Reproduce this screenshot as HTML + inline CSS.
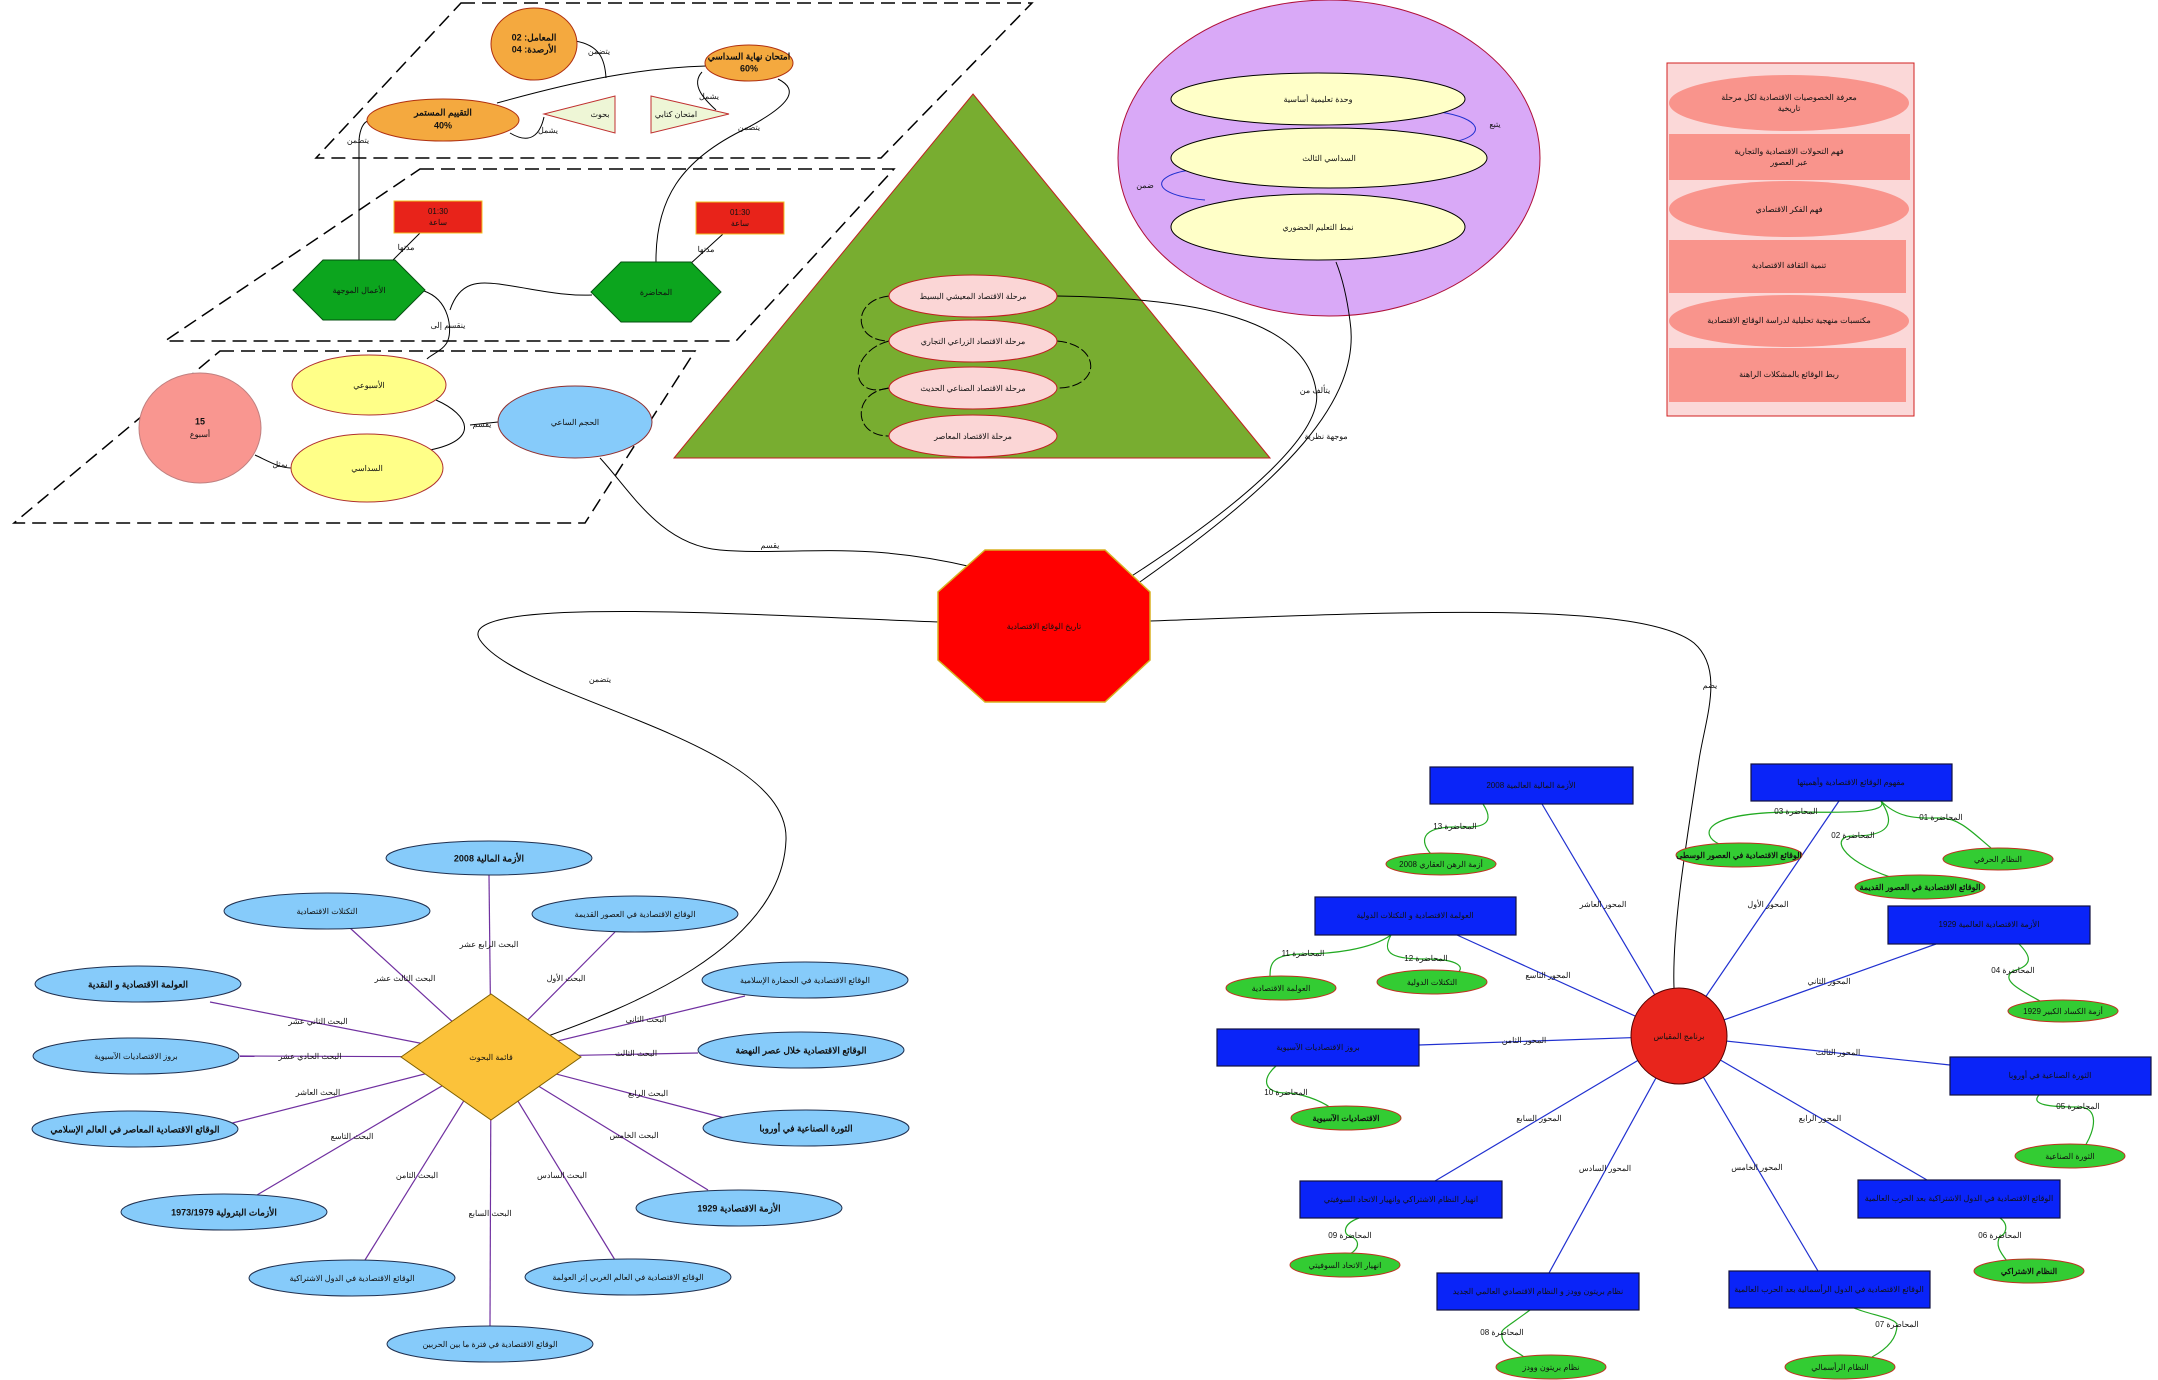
<!DOCTYPE html>
<html><head><meta charset="utf-8"><style>
html,body{margin:0;padding:0;background:#fff;}
svg{display:block;font-family:"Liberation Sans","Noto Sans CJK SC",sans-serif;}
text{text-anchor:middle;dominant-baseline:middle;fill:#111;}
.s{font-size:8px;}
.m{font-size:9px;font-weight:bold;}
</style></head><body>
<svg width="2158" height="1380" viewBox="0 0 2158 1380" xmlns="http://www.w3.org/2000/svg">
<!-- dashed parallelograms -->
<g fill="none" stroke="#000" stroke-width="1.5" stroke-dasharray="14,7">
<polygon points="461,3 1032,3 881,158 316,158"/>
<polygon points="420,169 894,169 736,341 165,341"/>
<polygon points="220,351 695,351 585,523 14,523"/>
</g>

<!-- green triangle -->
<polygon points="973,94 1270,458 674,458" fill="#78ad30" stroke="#c02020" stroke-width="1"/>

<!-- purple circle -->
<ellipse cx="1329" cy="158" rx="211" ry="158" fill="#d9a9f7" stroke="#b0103a" stroke-width="1"/>

<!-- connectors black -->
<g fill="none" stroke="#000" stroke-width="1">
<!-- P1 -->
<path d="M497,103 C580,80 640,68 706,66"/>
<path d="M510,133 C530,145 540,135 544,117"/>
<path d="M702,72 C690,85 705,100 716,110"/>
<path d="M575,41 C600,45 605,60 606,78"/>
<path d="M359,262 L359,140 C360,128 364,122 368,121"/>
<path d="M656,264 C655,200 680,160 747,128 C790,105 800,90 778,79"/>
<!-- P2 -->
<path d="M420,233 L389,264"/>
<path d="M723,234 L689,265"/>
<path d="M424,291 C450,300 452,330 448,340 C445,350 430,355 427,359"/>
<path d="M450,310 C460,280 480,282 499,284 C540,290 560,296 592,295"/>
<!-- P3 -->
<path d="M436,400 C470,415 480,440 430,450"/>
<path d="M470,425 L498,422"/>
<path d="M255,455 C270,462 280,468 291,468"/>
<!-- octagon connectors -->
<path d="M600,458 C630,490 660,545 720,550 C790,556 860,540 972,567"/>
<path d="M940,622 C750,615 450,595 480,640 C520,700 790,740 786,840 C782,950 620,1010 548,1036"/>
<path d="M1150,621 C1400,612 1640,600 1694,643 C1725,670 1705,720 1699,760 C1685,850 1672,930 1674,988"/>
<path d="M1127,579 C1250,500 1325,430 1316,390 C1305,320 1200,298 1057,296"/>
<path d="M1137,584 C1285,480 1362,400 1350,321 C1346,290 1340,272 1336,262"/>
</g>
<!-- triangle side arcs -->
<g fill="none" stroke="#000" stroke-width="1" stroke-dasharray="10,3">
<path d="M889,296 C852,300 852,341 889,341"/>
<path d="M889,341 C848,352 848,400 889,388"/>
<path d="M889,388 C852,392 852,436 889,436"/>
<path d="M1057,341 C1102,345 1102,388 1057,388"/>
</g>

<!-- P1 nodes -->
<ellipse cx="534" cy="44" rx="43" ry="36" fill="#f4a93f" stroke="#b03010"/>
<text class="m" x="534" y="38">المعامل: 02</text><text class="m" x="534" y="50">الأرصدة: 04</text>
<ellipse cx="749" cy="63" rx="44" ry="18" fill="#f4a93f" stroke="#b03010"/>
<text class="m" x="749" y="57">امتحان نهاية السداسي</text><text class="m" x="749" y="69">60%</text>
<ellipse cx="443" cy="120" rx="76" ry="21" fill="#f4a93f" stroke="#b03010"/>
<text class="m" x="443" y="113">التقييم المستمر</text><text class="m" x="443" y="126">40%</text>
<polygon points="544,114 615,96 615,133" fill="#eef6d6" stroke="#c03030"/>
<text class="s" x="600" y="115">بحوث</text>
<polygon points="651,96 651,133 729,114" fill="#eef6d6" stroke="#c03030"/>
<text class="s" x="676" y="115">امتحان كتابي</text>
<text class="s" x="599" y="52">يتضمن</text><text class="s" x="548" y="131">يشمل</text><text class="s" x="709" y="97">يشمل</text>
<text class="s" x="358" y="141">يتضمن</text><text class="s" x="749" y="128">يتضمن</text>

<!-- P2 nodes -->
<rect x="394" y="201" width="88" height="32" fill="#e8231a" stroke="#f0c020"/>
<text class="s" x="438" y="212">01:30</text><text class="s" x="438" y="223">ساعة</text>
<rect x="696" y="202" width="88" height="32" fill="#e8231a" stroke="#f0c020"/>
<text class="s" x="740" y="213">01:30</text><text class="s" x="740" y="224">ساعة</text>
<polygon points="293,290 323,260 395,260 425,290 395,320 323,320" fill="#0ca51e" stroke="#055010"/>
<text class="s" x="359" y="291">الأعمال الموجهة</text>
<polygon points="591,292 621,262 691,262 721,292 691,322 621,322" fill="#0ca51e" stroke="#055010"/>
<text class="s" x="656" y="293">المحاضرة</text>
<text class="s" x="406" y="248">مدتها</text><text class="s" x="706" y="250">مدتها</text>
<text class="s" x="448" y="326">ينقسم إلى</text>

<!-- P3 nodes -->
<ellipse cx="200" cy="428" rx="61" ry="55" fill="#f99690" stroke="#c08080"/>
<text class="m" x="200" y="422">15</text><text class="s" x="200" y="435">أسبوع</text>
<ellipse cx="369" cy="385" rx="77" ry="30" fill="#ffff88" stroke="#b03030"/>
<text class="s" x="369" y="386">الأسبوعي</text>
<ellipse cx="367" cy="468" rx="76" ry="34" fill="#ffff88" stroke="#b03030"/>
<text class="s" x="367" y="469">السداسي</text>
<ellipse cx="575" cy="422" rx="77" ry="36" fill="#86cbfa" stroke="#903030"/>
<text class="s" x="575" y="423">الحجم الساعي</text>
<text class="s" x="482" y="425">يقسم</text><text class="s" x="280" y="465">يمثل</text>

<!-- triangle ellipses -->
<g fill="#fbd6d6" stroke="#c02020">
<ellipse cx="973" cy="296" rx="84" ry="21"/>
<ellipse cx="973" cy="341" rx="84" ry="21"/>
<ellipse cx="973" cy="388" rx="84" ry="21"/>
<ellipse cx="973" cy="436" rx="84" ry="21"/>
</g>
<text class="s" x="973" y="297">مرحلة الاقتصاد المعيشي البسيط</text>
<text class="s" x="973" y="342">مرحلة الاقتصاد الزراعي التجاري</text>
<text class="s" x="973" y="389">مرحلة الاقتصاد الصناعي الحديث</text>
<text class="s" x="973" y="437">مرحلة الاقتصاد المعاصر</text>

<!-- purple circle contents -->
<g fill="none" stroke="#2030d0" stroke-width="1">
<path d="M1440,112 C1480,118 1490,135 1450,143"/>
<path d="M1190,170 C1150,176 1150,195 1205,200"/>
</g>
<g fill="#ffffc8" stroke="#000">
<ellipse cx="1318" cy="99" rx="147" ry="26"/>
<ellipse cx="1329" cy="158" rx="158" ry="30"/>
<ellipse cx="1318" cy="227" rx="147" ry="33"/>
</g>
<text class="s" x="1318" y="100">وحدة تعليمية أساسية</text>
<text class="s" x="1329" y="159">السداسي الثالث</text>
<text class="s" x="1318" y="228">نمط التعليم الحضوري</text>
<text class="s" x="1495" y="125">يتبع</text><text class="s" x="1145" y="186">ضمن</text>

<!-- pink panel -->
<rect x="1667" y="63" width="247" height="353" fill="#fbd8d8" stroke="#d02020"/>
<g fill="#f9948c">
<ellipse cx="1789" cy="103" rx="120" ry="28"/>
<rect x="1669" y="134" width="241" height="46"/>
<ellipse cx="1789" cy="209" rx="120" ry="28"/>
<rect x="1669" y="240" width="237" height="53"/>
<ellipse cx="1789" cy="321" rx="120" ry="26"/>
<rect x="1669" y="348" width="237" height="54"/>
</g>
<text class="s" x="1789" y="98">معرفة الخصوصيات الاقتصادية لكل مرحلة</text><text class="s" x="1789" y="109">تاريخية</text>
<text class="s" x="1789" y="152">فهم التحولات الاقتصادية والتجارية</text><text class="s" x="1789" y="163">عبر العصور</text>
<text class="s" x="1789" y="210">فهم الفكر الاقتصادي</text>
<text class="s" x="1789" y="266">تنمية الثقافة الاقتصادية</text>
<text class="s" x="1789" y="321">مكتسبات منهجية تحليلية لدراسة الوقائع الاقتصادية</text>
<text class="s" x="1789" y="375">ربط الوقائع بالمشكلات الراهنة</text>

<!-- octagon -->
<polygon points="985,550 1105,550 1150,592 1150,660 1105,702 985,702 938,660 938,592" fill="#ff0000" stroke="#d8b020" stroke-width="1.5"/>
<text class="s" x="1044" y="627">تاريخ الوقائع الاقتصادية</text>
<text class="s" x="770" y="546">يقسم</text>
<text class="s" x="600" y="680">يتضمن</text>
<text class="s" x="1315" y="391">يتألف من</text>
<text class="s" x="1326" y="437">موجهة نظرية</text>
<text class="s" x="1710" y="686">يضم</text>

<!-- bottom-left star -->
<g stroke="#7030a0" stroke-width="1.2">
<line x1="491" y1="1057" x2="489" y2="875"/>
<line x1="491" y1="1057" x2="350" y2="928"/>
<line x1="491" y1="1057" x2="615" y2="932"/>
<line x1="491" y1="1057" x2="210" y2="1002"/>
<line x1="491" y1="1057" x2="745" y2="996"/>
<line x1="491" y1="1057" x2="240" y2="1056"/>
<line x1="491" y1="1057" x2="698" y2="1053"/>
<line x1="491" y1="1057" x2="205" y2="1130"/>
<line x1="491" y1="1057" x2="740" y2="1122"/>
<line x1="491" y1="1057" x2="257" y2="1195"/>
<line x1="491" y1="1057" x2="708" y2="1190"/>
<line x1="491" y1="1057" x2="365" y2="1260"/>
<line x1="491" y1="1057" x2="615" y2="1260"/>
<line x1="491" y1="1057" x2="490" y2="1326"/>
</g>
<g fill="#86cbfa" stroke="#203050">
<ellipse cx="489" cy="858" rx="103" ry="17"/>
<ellipse cx="327" cy="911" rx="103" ry="18"/>
<ellipse cx="635" cy="914" rx="103" ry="18"/>
<ellipse cx="138" cy="984" rx="103" ry="18"/>
<ellipse cx="805" cy="980" rx="103" ry="18"/>
<ellipse cx="136" cy="1056" rx="103" ry="18"/>
<ellipse cx="801" cy="1050" rx="103" ry="18"/>
<ellipse cx="135" cy="1129" rx="103" ry="18"/>
<ellipse cx="806" cy="1128" rx="103" ry="18"/>
<ellipse cx="224" cy="1212" rx="103" ry="18"/>
<ellipse cx="739" cy="1208" rx="103" ry="18"/>
<ellipse cx="352" cy="1278" rx="103" ry="18"/>
<ellipse cx="628" cy="1277" rx="103" ry="18"/>
<ellipse cx="490" cy="1344" rx="103" ry="18"/>
</g>
<text class="m" x="489" y="859">الأزمة المالية 2008</text>
<text class="s" x="327" y="912">التكتلات الاقتصادية</text>
<text class="s" x="635" y="915">الوقائع الاقتصادية في العصور القديمة</text>
<text class="m" x="138" y="985">العولمة الاقتصادية و النقدية</text>
<text class="s" x="805" y="981">الوقائع الاقتصادية في الحضارة الإسلامية</text>
<text class="s" x="136" y="1057">بروز الاقتصاديات الآسيوية</text>
<text class="m" x="801" y="1051">الوقائع الاقتصادية خلال عصر النهضة</text>
<text class="m" x="135" y="1130">الوقائع الاقتصادية المعاصر في العالم الإسلامي</text>
<text class="m" x="806" y="1129">الثورة الصناعية في أوروبا</text>
<text class="m" x="224" y="1213">الأزمات البترولية 1973/1979</text>
<text class="m" x="739" y="1209">الأزمة الاقتصادية 1929</text>
<text class="s" x="352" y="1279">الوقائع الاقتصادية في الدول الاشتراكية</text>
<text class="s" x="628" y="1278">الوقائع الاقتصادية في العالم الغربي إثر العولمة</text>
<text class="s" x="490" y="1345">الوقائع الاقتصادية في فترة ما بين الحربين</text>
<polygon points="401,1057 491,994 581,1057 491,1120" fill="#fbc23a" stroke="#806000"/>
<text class="s" x="491" y="1058">قائمة البحوث</text>
<g class="s">
<text x="489" y="945">البحث الرابع عشر</text>
<text x="405" y="979">البحث الثالث عشر</text>
<text x="566" y="979">البحث الأول</text>
<text x="318" y="1022">البحث الثاني عشر</text>
<text x="646" y="1020">البحث الثاني</text>
<text x="310" y="1057">البحث الحادي عشر</text>
<text x="636" y="1054">البحث الثالث</text>
<text x="318" y="1093">البحث العاشر</text>
<text x="648" y="1094">البحث الرابع</text>
<text x="352" y="1137">البحث التاسع</text>
<text x="634" y="1136">البحث الخامس</text>
<text x="417" y="1176">البحث الثامن</text>
<text x="562" y="1176">البحث السادس</text>
<text x="490" y="1214">البحث السابع</text>
</g>

<!-- bottom-right star -->
<g stroke="#2030d0" stroke-width="1.2">
<line x1="1679" y1="1036" x2="1542" y2="804"/>
<line x1="1679" y1="1036" x2="1839" y2="801"/>
<line x1="1679" y1="1036" x2="1457" y2="935"/>
<line x1="1679" y1="1036" x2="1936" y2="944"/>
<line x1="1679" y1="1036" x2="1419" y2="1045"/>
<line x1="1679" y1="1036" x2="1950" y2="1065"/>
<line x1="1679" y1="1036" x2="1435" y2="1181"/>
<line x1="1679" y1="1036" x2="1927" y2="1180"/>
<line x1="1679" y1="1036" x2="1549" y2="1273"/>
<line x1="1679" y1="1036" x2="1818" y2="1271"/>
</g>
<g fill="none" stroke="#22aa22" stroke-width="1.2">
<path d="M1483,804 C1500,830 1470,827 1455,827 C1420,827 1420,842 1431,854"/>
<path d="M1881,801 C1890,815 1830,812 1796,812 C1700,812 1700,835 1719,844"/>
<path d="M1881,801 C1900,820 1920,818 1941,818 C1960,818 1975,835 1991,848"/>
<path d="M1881,801 C1890,815 1900,836 1853,836 C1830,836 1840,860 1890,877"/>
<path d="M1391,935 C1370,950 1330,954 1303,954 C1270,954 1270,965 1270,978"/>
<path d="M1391,935 C1380,955 1395,959 1426,959 C1460,959 1465,968 1457,973"/>
<path d="M2019,944 C2030,955 2035,965 2013,971 C2000,980 2020,990 2040,1001"/>
<path d="M1276,1066 C1260,1080 1265,1093 1286,1093 C1300,1093 1320,1100 1331,1108"/>
<path d="M2039,1095 C2030,1105 2050,1107 2078,1107 C2100,1107 2095,1130 2085,1146"/>
<path d="M1359,1218 C1340,1225 1345,1236 1350,1236 C1360,1240 1360,1248 1350,1254"/>
<path d="M2000,1218 C2010,1225 2005,1236 2000,1236 C1995,1245 2000,1252 2007,1261"/>
<path d="M1530,1310 C1510,1325 1500,1330 1502,1333 C1500,1345 1515,1350 1524,1357"/>
<path d="M1854,1308 C1870,1315 1897,1318 1897,1325 C1897,1340 1885,1350 1872,1357"/>
</g>
<circle cx="1679" cy="1036" r="48" fill="#e8251c" stroke="#500"/>
<text class="s" x="1679" y="1037">برنامج المقياس</text>
<g fill="#0a24f8" stroke="#101040" stroke-width="1.2">
<rect x="1430" y="767" width="203" height="37"/>
<rect x="1751" y="764" width="201" height="37"/>
<rect x="1315" y="897" width="201" height="38"/>
<rect x="1888" y="906" width="202" height="38"/>
<rect x="1217" y="1029" width="202" height="37"/>
<rect x="1950" y="1057" width="201" height="38"/>
<rect x="1300" y="1181" width="202" height="37"/>
<rect x="1858" y="1180" width="202" height="38"/>
<rect x="1437" y="1273" width="202" height="37"/>
<rect x="1729" y="1271" width="201" height="37"/>
</g>
<g class="s">
<text x="1531" y="786">الأزمة المالية العالمية 2008</text>
<text x="1851" y="783">مفهوم الوقائع الاقتصادية وأهميتها</text>
<text x="1415" y="916">العولمة الاقتصادية و التكتلات الدولية</text>
<text x="1989" y="925">الأزمة الاقتصادية العالمية 1929</text>
<text x="1318" y="1048">بروز الاقتصاديات الآسيوية</text>
<text x="2050" y="1076">الثورة الصناعية في أوروبا</text>
<text x="1401" y="1200">انهيار النظام الاشتراكي وانهيار الاتحاد السوفيتي</text>
<text x="1959" y="1199">الوقائع الاقتصادية في الدول الاشتراكية بعد الحرب العالمية</text>
<text x="1538" y="1292">نظام بريتون وودز و النظام الاقتصادي العالمي الجديد</text>
<text x="1829" y="1290">الوقائع الاقتصادية في الدول الرأسمالية بعد الحرب العالمية</text>
<text x="1603" y="905">المحور العاشر</text>
<text x="1768" y="905">المحور الأول</text>
<text x="1548" y="976">المحور التاسع</text>
<text x="1829" y="982">المحور الثاني</text>
<text x="1524" y="1041">المحور الثامن</text>
<text x="1838" y="1053">المحور الثالث</text>
<text x="1539" y="1119">المحور السابع</text>
<text x="1820" y="1119">المحور الرابع</text>
<text x="1605" y="1169">المحور السادس</text>
<text x="1757" y="1168">المحور الخامس</text>
<text x="1455" y="827">المحاضرة 13</text>
<text x="1796" y="812">المحاضرة 03</text>
<text x="1941" y="818">المحاضرة 01</text>
<text x="1853" y="836">المحاضرة 02</text>
<text x="1303" y="954">المحاضرة 11</text>
<text x="1426" y="959">المحاضرة 12</text>
<text x="2013" y="971">المحاضرة 04</text>
<text x="1286" y="1093">المحاضرة 10</text>
<text x="2078" y="1107">المحاضرة 05</text>
<text x="1350" y="1236">المحاضرة 09</text>
<text x="2000" y="1236">المحاضرة 06</text>
<text x="1502" y="1333">المحاضرة 08</text>
<text x="1897" y="1325">المحاضرة 07</text>
</g>
<g fill="#33cc33" stroke="#c03020">
<ellipse cx="1441" cy="864" rx="55" ry="11"/>
<ellipse cx="1739" cy="855" rx="63" ry="12"/>
<ellipse cx="1998" cy="859" rx="55" ry="11"/>
<ellipse cx="1920" cy="887" rx="65" ry="12"/>
<ellipse cx="1281" cy="988" rx="55" ry="12"/>
<ellipse cx="1432" cy="982" rx="55" ry="12"/>
<ellipse cx="2063" cy="1011" rx="55" ry="11"/>
<ellipse cx="1346" cy="1118" rx="55" ry="12"/>
<ellipse cx="2070" cy="1156" rx="55" ry="12"/>
<ellipse cx="1345" cy="1265" rx="55" ry="12"/>
<ellipse cx="2029" cy="1271" rx="55" ry="12"/>
<ellipse cx="1551" cy="1367" rx="55" ry="12"/>
<ellipse cx="1840" cy="1367" rx="55" ry="12"/>
</g>
<g class="s">
<text x="1441" y="865">أزمة الرهن العقاري 2008</text>
<text x="1739" y="856" font-weight="bold">الوقائع الاقتصادية في العصور الوسطى</text>
<text x="1998" y="860">النظام الحرفي</text>
<text x="1920" y="888" font-weight="bold">الوقائع الاقتصادية في العصور القديمة</text>
<text x="1281" y="989">العولمة الاقتصادية</text>
<text x="1432" y="983">التكتلات الدولية</text>
<text x="2063" y="1012">أزمة الكساد الكبير 1929</text>
<text x="1346" y="1119" font-weight="bold">الاقتصاديات الآسيوية</text>
<text x="2070" y="1157">الثورة الصناعية</text>
<text x="1345" y="1266">انهيار الاتحاد السوفيتي</text>
<text x="2029" y="1272" font-weight="bold">النظام الاشتراكي</text>
<text x="1551" y="1368">نظام بريتون وودز</text>
<text x="1840" y="1368">النظام الرأسمالي</text>
</g>
</svg>
</body></html>
